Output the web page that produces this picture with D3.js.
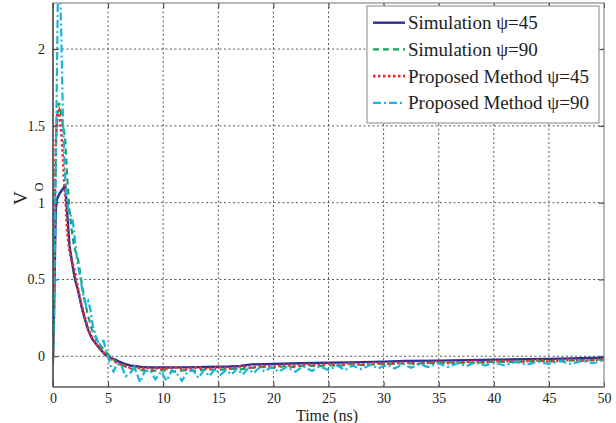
<!DOCTYPE html>
<html><head><meta charset="utf-8">
<script src="https://cdn.jsdelivr.net/npm/d3@7"></script>
<style>body{margin:0;background:#fff}svg{display:block}</style>
</head><body><div id="chart"></div>
<script>
const xTicks = [0,5,10,15,20,25,30,35,40,45,50];
const yTicks = [0,0.5,1,1.5,2];
const seriesNames = ["Simulation \u03c8=45","Simulation \u03c8=90","Proposed Method \u03c8=45","Proposed Method \u03c8=90"];

const sim45T = [0,0.1,0.2,0.25,0.35,0.6,1.0,1.1,1.3,1.5,1.8,2.0,2.3,2.6,2.9,3.2,3.5,3.85,4.3,4.75,5.2,5.6,6,6.5,7,8,9,10,12,14,15,16,17,18,20,22.5,25,27,30,32,35,40,45,50];
const sim45V = [0,0.3,0.75,0.95,1.02,1.06,1.1,1.12,0.92,0.72,0.58,0.5,0.42,0.32,0.24,0.17,0.12,0.085,0.045,0.01,-0.01,-0.02,-0.035,-0.05,-0.06,-0.07,-0.073,-0.073,-0.072,-0.07,-0.068,-0.067,-0.063,-0.053,-0.05,-0.045,-0.042,-0.04,-0.035,-0.03,-0.028,-0.022,-0.017,-0.01];

const sim90T = [0,0.1,0.2,0.3,0.45,0.55,0.8,1.1,1.3,1.5,1.7,1.9,2.1,2.3,2.6,2.9,3.2,3.5,3.9,4.3,4.75,5.2,5.6,6,6.5,7,7.5,8,9,10,11,12,13,14,15,16,17,18,19,20,21,22,23,24,25,26,27,28,30,32,34,36,38,40,42,44,46,48,50];
const sim90V = [0,0.5,1.1,1.45,1.62,1.65,1.55,1.42,1.15,0.95,0.82,0.72,0.67,0.62,0.48,0.35,0.26,0.18,0.12,0.07,0.03,0.0,-0.03,-0.05,-0.065,-0.08,-0.085,-0.09,-0.095,-0.09,-0.1,-0.09,-0.095,-0.085,-0.09,-0.08,-0.085,-0.075,-0.07,-0.075,-0.065,-0.07,-0.06,-0.065,-0.058,-0.062,-0.052,-0.058,-0.05,-0.047,-0.045,-0.04,-0.042,-0.035,-0.037,-0.03,-0.032,-0.025,-0.022];

const prop45T = [0,0.05,0.15,0.25,0.4,0.55,0.7,0.85,1.0,1.15,1.3,1.5,1.7,2.0,2.3,2.5,2.8,3.1,3.4,3.8,4.1,4.5,5.0,5.5,6,6.5,7,7.5,8,8.5,9,9.5,10,11,12,13,14,15,16,17,18,19,20,21,22,23,24,25,26,27,28,29,30,32,33,35,36,38,39,41,42,44,45,47,48,50];
const prop45V = [0,0.4,1.0,1.4,1.58,1.6,1.5,1.35,1.15,1.0,0.8,0.68,0.62,0.55,0.43,0.36,0.28,0.2,0.14,0.1,0.06,0.03,0.0,-0.03,-0.05,-0.06,-0.075,-0.065,-0.085,-0.07,-0.09,-0.075,-0.085,-0.07,-0.088,-0.072,-0.085,-0.07,-0.08,-0.065,-0.075,-0.06,-0.07,-0.055,-0.065,-0.052,-0.06,-0.048,-0.058,-0.045,-0.055,-0.043,-0.05,-0.04,-0.05,-0.036,-0.045,-0.033,-0.04,-0.03,-0.038,-0.026,-0.034,-0.022,-0.03,-0.02];

const prop90T = [0,0.1,0.3,0.45,0.6,0.75,0.9,1.05,1.2,1.4,1.6,1.8,2.0,2.2,2.5,2.7,3.0,3.2,3.4,3.6,3.9,4.2,4.4,4.6,4.8,5.0,5.3,5.5,5.8,6.2,6.6,7.0,7.4,7.9,8.3,8.8,9.3,9.8,10.3,10.8,11.3,11.7,12.2,12.7,13.2,13.7,14.2,14.7,15.2,15.7,16.2,16.7,17.2,17.7,18.2,18.7,19.2,19.8,20.5,21.2,22,22.7,23.5,24.2,25,25.8,26.5,27.2,28,28.8,29.5,30.3,31,31.8,32.5,33.3,34,35,35.8,36.7,37.5,38.3,39.2,40,41,42,43,44,45,46,47,48,49,50];
const prop90V = [-0.05,0.3,1.5,2.4,2.5,2.1,1.55,1.25,1.05,0.95,0.92,0.88,0.75,0.62,0.5,0.42,0.33,0.36,0.3,0.2,0.13,0.07,0.1,0.1,0.04,0.0,-0.08,-0.1,-0.05,-0.06,-0.13,-0.11,-0.07,-0.17,-0.1,-0.09,-0.15,-0.1,-0.16,-0.09,-0.12,-0.16,-0.1,-0.09,-0.14,-0.09,-0.13,-0.08,-0.12,-0.09,-0.12,-0.08,-0.12,-0.08,-0.11,-0.075,-0.1,-0.07,-0.1,-0.07,-0.1,-0.065,-0.095,-0.065,-0.09,-0.06,-0.09,-0.06,-0.085,-0.055,-0.08,-0.055,-0.08,-0.05,-0.075,-0.05,-0.07,-0.045,-0.07,-0.045,-0.065,-0.04,-0.06,-0.04,-0.06,-0.035,-0.055,-0.035,-0.05,-0.03,-0.05,-0.03,-0.045,-0.025];

const W = 616, H = 423;
const m = {l:53, r:12, t:3, b:36};
const svg = d3.select("#chart").append("svg").attr("width",W).attr("height",H)
  .style("font-family","'Liberation Serif','Times New Roman',serif");
svg.append("rect").attr("width",W).attr("height",H).attr("fill","#fff");

const x = d3.scaleLinear().domain([0,50]).range([m.l, W-m.r]);
const y = d3.scaleLinear().domain([-0.2,2.3]).range([H-m.b, m.t]);

// grid
const g = svg.append("g");
g.selectAll(".gx").data(xTicks.slice(1,-1)).join("line")
  .attr("x1",d=>x(d)).attr("x2",d=>x(d)).attr("y1",y(-0.2)).attr("y2",y(2.3))
  .attr("stroke","#444").attr("stroke-width",0.9).attr("stroke-dasharray","2,2.5");
g.selectAll(".gy").data(yTicks).join("line")
  .attr("x1",x(0)).attr("x2",x(50)).attr("y1",d=>y(d)).attr("y2",d=>y(d))
  .attr("stroke","#444").attr("stroke-width",0.9).attr("stroke-dasharray","2,2.5");

// axes
const fmt = d=>String(d);
const ax = svg.append("g").attr("transform",`translate(0,${y(-0.2)})`)
  .call(d3.axisBottom(x).tickValues(xTicks).tickFormat(fmt).tickSize(-5).tickPadding(6));
const axT = svg.append("g").attr("transform",`translate(0,${y(2.3)})`)
  .call(d3.axisTop(x).tickValues(xTicks).tickFormat("").tickSize(-5));
const ay = svg.append("g").attr("transform",`translate(${x(0)},0)`)
  .call(d3.axisLeft(y).tickValues(yTicks).tickFormat(fmt).tickSize(-5).tickPadding(8));
const ayR = svg.append("g").attr("transform",`translate(${x(50)},0)`)
  .call(d3.axisRight(y).tickValues(yTicks).tickFormat("").tickSize(-5));
[ax,axT,ay,ayR].forEach(a=>{
  a.select(".domain").remove();
  a.selectAll(".tick line").attr("stroke","#333");
  a.selectAll(".tick text").attr("fill","#222").style("font-size","14px")
    .style("font-family","'Liberation Serif','Times New Roman',serif");
});

// clip
svg.append("clipPath").attr("id","clip").append("rect")
  .attr("x",x(0)).attr("y",y(2.3)).attr("width",x(50)-x(0)).attr("height",y(-0.2)-y(2.3));

const line = d3.line().x(d=>x(d[0])).y(d=>y(d[1]));
const zip = (t,v)=>t.map((d,i)=>[d,v[i]]);
const series = [
  {name:seriesNames[0], data:zip(sim45T,sim45V), color:"#2e3192", dash:null, w:2.4},
  {name:seriesNames[1], data:zip(sim90T,sim90V), color:"#11a55a", dash:"6,4", w:2.2},
  {name:seriesNames[2], data:zip(prop45T,prop45V), color:"#ee2b36", dash:"2.5,2.5", w:2.6},
  {name:seriesNames[3], data:zip(prop90T,prop90V), color:"#18b4dd", dash:"8,3,2,3", w:2.2}
];
const plot = svg.append("g").attr("clip-path","url(#clip)");
series.forEach(s=>{
  plot.append("path").datum(s.data).attr("d",line).attr("fill","none")
    .attr("stroke",s.color).attr("stroke-width",s.w)
    .attr("stroke-dasharray",s.dash);
});

// frame
svg.append("rect").attr("x",x(0)).attr("y",y(2.3)).attr("width",x(50)-x(0)).attr("height",y(-0.2)-y(2.3))
  .attr("fill","none").attr("stroke","#888").attr("stroke-width",1.2);
svg.append("line").attr("x1",x(0)).attr("x2",x(0)).attr("y1",y(2.3)).attr("y2",y(-0.2))
  .attr("stroke","#333").attr("stroke-width",1.2);
svg.append("line").attr("x1",x(0)).attr("x2",x(50)).attr("y1",y(-0.2)).attr("y2",y(-0.2))
  .attr("stroke","#555").attr("stroke-width",1.2);

// legend
const lg = svg.append("g");
lg.append("rect").attr("x",367).attr("y",6).attr("width",232).attr("height",117)
  .attr("fill","#fff").attr("stroke","#999").attr("stroke-width",1.2);
series.forEach((s,i)=>{
  const cy = 22.7 + i*26.7;
  lg.append("line").attr("x1",373).attr("x2",405).attr("y1",cy).attr("y2",cy)
    .attr("stroke",s.color).attr("stroke-width",s.w).attr("stroke-dasharray",s.dash);
  lg.append("text").attr("x",408).attr("y",cy+6.5).text(s.name)
    .attr("fill","#222").style("font-size","19px");
});

// axis labels
svg.append("text").attr("x",327).attr("y",421).attr("text-anchor","middle")
  .style("font-size","16px").attr("fill","#222").text("Time (ns)");
const yl = svg.append("text").attr("transform","translate(27,205) rotate(-90)")
  .attr("fill","#222").style("font-size","19px");
yl.append("tspan").text("V");
yl.append("tspan").attr("dy",16).style("font-size","12px").text("O");
</script></body></html>
